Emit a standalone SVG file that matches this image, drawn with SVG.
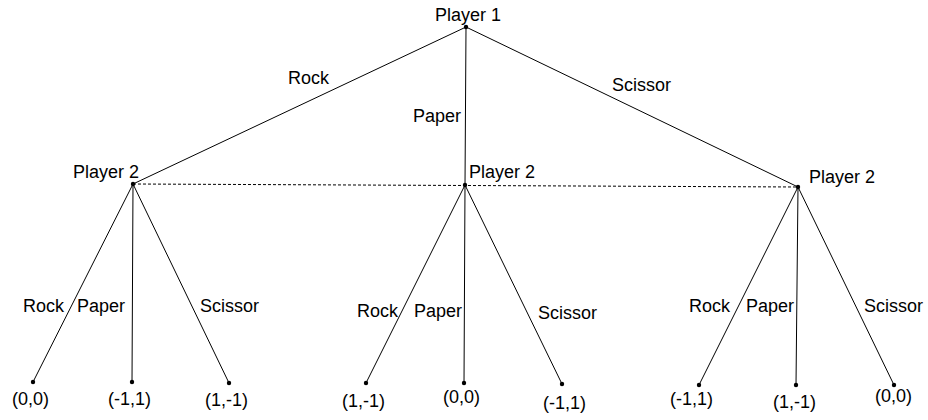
<svg xmlns="http://www.w3.org/2000/svg" width="928" height="420" viewBox="0 0 928 420">
<style>
text { font-family: "Liberation Sans", Arial, sans-serif; font-size: 18px; fill: #000; }
.e { stroke: #000; stroke-width: 1; fill: none; }
.d { stroke: #000; stroke-width: 1; stroke-dasharray: 3 2; fill: none; }
.n { fill: #000; }
</style>
<rect width="928" height="420" fill="#fff"/>
<g id="connectors">
<line class="e" x1="466" y1="27" x2="133" y2="184"/>
<line class="e" x1="466" y1="27" x2="465" y2="185"/>
<line class="e" x1="466" y1="27" x2="798" y2="187"/>
<line class="d" x1="133" y1="184" x2="798" y2="187"/>
<line class="e" x1="133" y1="184" x2="33" y2="382"/>
<line class="e" x1="133" y1="184" x2="132" y2="382"/>
<line class="e" x1="133" y1="184" x2="229" y2="383"/>
<line class="e" x1="465" y1="185" x2="366" y2="383"/>
<line class="e" x1="465" y1="185" x2="464" y2="383"/>
<line class="e" x1="465" y1="185" x2="562" y2="384"/>
<line class="e" x1="798" y1="187" x2="699" y2="385"/>
<line class="e" x1="798" y1="187" x2="796" y2="385"/>
<line class="e" x1="798" y1="187" x2="894" y2="385"/>
<text x="288" y="84">Rock</text>
<text x="413" y="122">Paper</text>
<text x="612" y="91">Scissor</text>
<text x="23" y="312">Rock</text>
<text x="77" y="312">Paper</text>
<text x="200" y="312">Scissor</text>
<text x="357" y="317">Rock</text>
<text x="414" y="317">Paper</text>
<text x="538" y="319">Scissor</text>
<text x="689" y="312">Rock</text>
<text x="746" y="312">Paper</text>
<text x="864" y="312">Scissor</text>
</g>
<g id="root"><circle class="n" cx="466" cy="27" r="2.2"/><text x="435" y="21">Player 1</text></g>
<g id="p2-left"><circle class="n" cx="133" cy="184" r="2.2"/><text x="73" y="178">Player 2</text></g>
<g id="p2-mid"><circle class="n" cx="465" cy="185" r="2.2"/><text x="469" y="178">Player 2</text></g>
<g id="p2-right"><circle class="n" cx="798" cy="187" r="2.2"/><text x="809" y="183">Player 2</text></g>
<g id="leaf1"><circle class="n" cx="33" cy="382" r="2.2"/><text x="12" y="405">(0,0)</text></g>
<g id="leaf2"><circle class="n" cx="132" cy="382" r="2.2"/><text x="108" y="405">(-1,1)</text></g>
<g id="leaf3"><circle class="n" cx="229" cy="383" r="2.2"/><text x="205" y="406">(1,-1)</text></g>
<g id="leaf4"><circle class="n" cx="366" cy="383" r="2.2"/><text x="342" y="407">(1,-1)</text></g>
<g id="leaf5"><circle class="n" cx="464" cy="383" r="2.2"/><text x="443" y="403">(0,0)</text></g>
<g id="leaf6"><circle class="n" cx="562" cy="384" r="2.2"/><text x="543" y="409">(-1,1)</text></g>
<g id="leaf7"><circle class="n" cx="699" cy="385" r="2.2"/><text x="670" y="405">(-1,1)</text></g>
<g id="leaf8"><circle class="n" cx="796" cy="385" r="2.2"/><text x="773" y="408">(1,-1)</text></g>
<g id="leaf9"><circle class="n" cx="894" cy="385" r="2.2"/><text x="875" y="402">(0,0)</text></g>
</svg>
